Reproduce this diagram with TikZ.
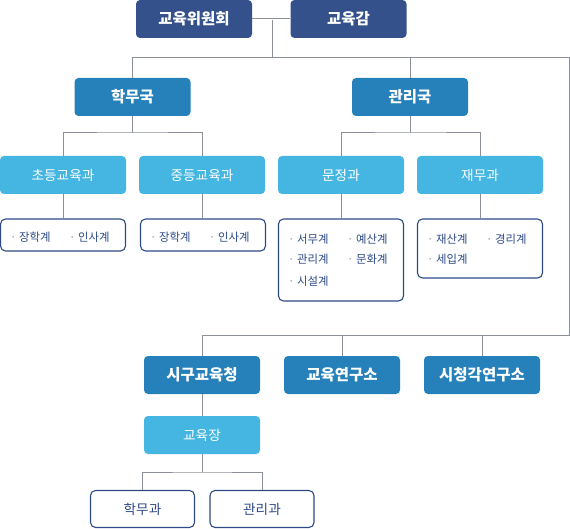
\documentclass[tikz,border=0pt]{standalone}
\usepackage{fontspec}
\setmainfont{Noto Sans CJK KR}
\usepackage{xcolor}
\usetikzlibrary{positioning,calc}
\definecolor{navy}{HTML}{34518B}
\definecolor{midblue}{HTML}{2680BA}
\definecolor{lightblue}{HTML}{45B6E1}
\definecolor{edgenavy}{HTML}{2E4A86}
\definecolor{linkgray}{HTML}{8C9099}
\definecolor{dotgray}{HTML}{8A93A8}
\newcommand{\orgitem}[1]{{\color{dotgray}·}\hspace{2.5pt}#1}

\begin{document}
\begin{tikzpicture}[x=1pt,y=-1pt,
  topbox/.style={fill=navy,text=white,rounded corners=4pt,minimum width=116pt,
    minimum height=38pt,inner sep=0pt,font=\bfseries\fontsize{15.5}{18}\selectfont},
  midbox/.style={topbox,fill=midblue},
  lightbox/.style={fill=lightblue,text=white,rounded corners=4pt,minimum width=126pt,
    minimum height=38pt,inner sep=0pt,font=\fontsize{13.6}{16}\selectfont},
  listbox/.style={draw=edgenavy,line width=1.1pt,fill=white,rounded corners=5pt,
    minimum width=125pt,inner sep=0pt},
  leafbox/.style={listbox,minimum width=104pt,minimum height=37pt,text=edgenavy,
    font=\fontsize{13.6}{16}\selectfont},
  item/.style={anchor=west,inner sep=0pt,text=edgenavy,font=\fontsize{11.4}{13}\selectfont},
  link/.style={draw=linkgray,line width=1pt}]
  \useasboundingbox (0,0) rectangle (570,529);

  % Top level
  \node[topbox] (wiwon) at (194,19) {교육위원회};
  \node[topbox] (gam) at (348.5,19) {교육감};

  % Bureaus
  \node[midbox] (hakmu) at (132.5,97) {학무국};
  \node[midbox] (gwanri) at (410,97) {관리국};

  % Divisions
  \node[lightbox] (chodeung) at (63,175) {초등교육과};
  \node[lightbox] (jungdeung) at (202,175) {중등교육과};
  \node[lightbox] (munjeong) at (341,175) {문정과};
  \node[lightbox] (jaemu) at (480,175) {재무과};

  % Sections (list boxes)
  \node[listbox,minimum height=32pt] (secA) at (63,235) {};
  \node[listbox,minimum height=32pt] (secB) at (203,235) {};
  \node[listbox,minimum height=82pt] (secC) at (341,260) {};
  \node[listbox,minimum height=59pt] (secD) at (480,248.5) {};

  \node[item] (a1) at (10,237) {\orgitem{장학계}};
  \node[item] (a2) at (69,237) {\orgitem{인사계}};
  \node[item] (b1) at (150,237) {\orgitem{장학계}};
  \node[item] (b2) at (209,237) {\orgitem{인사계}};
  \node[item] (c1) at (288,239) {\orgitem{서무계}};
  \node[item] (c2) at (347,239) {\orgitem{예산계}};
  \node[item] (c3) at (288,259) {\orgitem{관리계}};
  \node[item] (c4) at (347,259) {\orgitem{문화계}};
  \node[item] (c5) at (288,281) {\orgitem{시설계}};
  \node[item] (d1) at (427,239) {\orgitem{재산계}};
  \node[item] (d2) at (486,239) {\orgitem{경리계}};
  \node[item] (d3) at (427,259) {\orgitem{세입계}};

  % Affiliated bodies
  \node[midbox] (sigu) at (202,375) {시구교육청};
  \node[midbox] (yeonguso) at (342,375) {교육연구소};
  \node[midbox] (sicheong) at (482,375) {시청각연구소};
  \node[lightbox,minimum width=116pt] (gyoyukjang) at (202,435) {교육장};
  \node[leafbox] (hakmugwa) at (142.5,509) {학무과};
  \node[leafbox] (gwanrigwa) at (262,509) {관리과};

  % Junctions
  \coordinate (jtop) at (272,20);
  \coordinate (jbus) at (272,58);
  \coordinate (jright) at (569,58);
  \coordinate (jlow) at (569,335);
  \coordinate (jhak) at (132.5,133);
  \coordinate (jgwan) at (410,133);
  \coordinate (jjang) at (202,472);

  % Connectors
  \path[link] (wiwon.east) -- (gam.west);
  \path[link] (jtop) -- (jbus);
  \path[link] (hakmu.north) |- (jright) -- (jlow) -| (sigu.north);
  \path[link] (gwanri.north) -- (gwanri.north |- jbus);
  \path[link] (yeonguso.north) -- (yeonguso.north |- jlow);
  \path[link] (sicheong.north) -- (sicheong.north |- jlow);

  \path[link] (hakmu.south) -- (jhak);
  \path[link] (chodeung.north) |- (jhak) -| (jungdeung.north);
  \path[link] (gwanri.south) -- (gwanri.south |- jgwan);
  \path[link] (munjeong.north) |- (jgwan) -| (jaemu.north);

  \path[link] (chodeung.south) -- (secA.north);
  \path[link] (jungdeung.south) -- (jungdeung.south |- secB.north);
  \path[link] (munjeong.south) -- (secC.north);
  \path[link] (jaemu.south) -- (secD.north);

  \path[link] (sigu.south) -- (gyoyukjang.north);
  \path[link] (gyoyukjang.south) -- (jjang);
  \path[link] (hakmugwa.north) |- (jjang) -| (gwanrigwa.north);
\end{tikzpicture}
\end{document}
